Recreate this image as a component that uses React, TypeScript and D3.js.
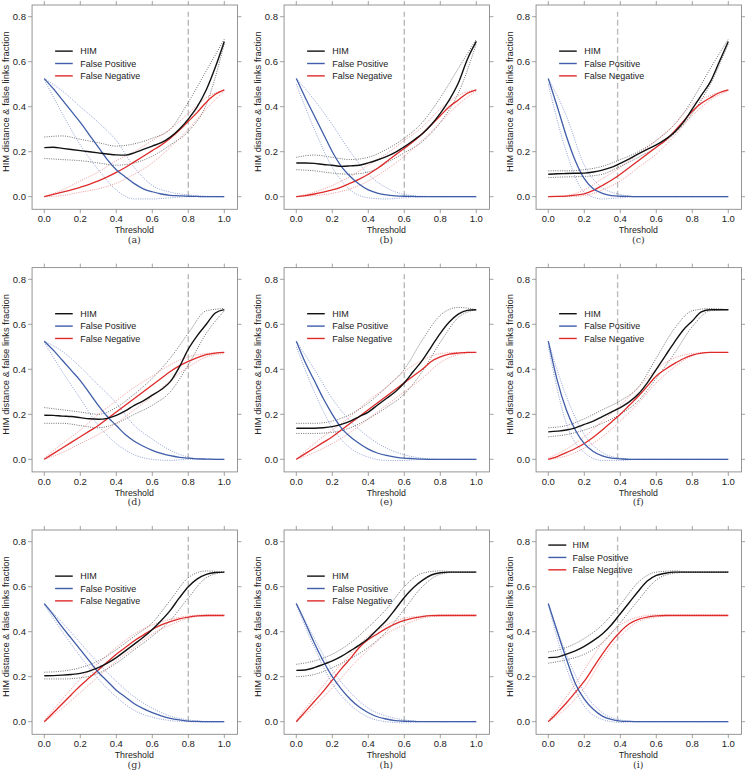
import React from "react";
import * as d3 from "d3";

// ---------- data ----------
const THRESHOLDS_FINE = [0, 0.05, 0.1, 0.15, 0.2, 0.25, 0.3, 0.35, 0.4, 0.45, 0.5, 0.55, 0.6, 0.65, 0.7, 0.75, 0.8, 0.85, 0.9, 0.95, 1.0];
const THRESHOLDS_COARSE = [0, 0.1, 0.2, 0.3, 0.4, 0.5, 0.6, 0.7, 0.8, 0.9, 1.0];
const X_TICKS = [0, 0.2, 0.4, 0.6, 0.8, 1.0];
const Y_TICKS = [0, 0.2, 0.4, 0.6, 0.8];
const PANEL_LABELS = ["(a)", "(b)", "(c)", "(d)", "(e)", "(f)", "(g)", "(h)", "(i)"];
const CUT_OFFS = [0.8, 0.6, 0.385, 0.8, 0.6, 0.385, 0.8, 0.6, 0.385];
const LEGEND_LABELS = ["HIM", "False Positive", "False Negative"];

// (a)
const HIM_A = [0.218, 0.22, 0.215, 0.21, 0.205, 0.2, 0.195, 0.19, 0.186, 0.185, 0.195, 0.21, 0.225, 0.24, 0.265, 0.3, 0.345, 0.4, 0.475, 0.575, 0.69];
const FP_A = [0.525, 0.48, 0.43, 0.38, 0.33, 0.275, 0.22, 0.165, 0.12, 0.088, 0.058, 0.035, 0.022, 0.012, 0.006, 0.004, 0.002, 0.001, 0, 0, 0];
const FN_A = [0, 0.01, 0.02, 0.03, 0.042, 0.055, 0.07, 0.088, 0.108, 0.13, 0.155, 0.18, 0.205, 0.23, 0.26, 0.295, 0.335, 0.375, 0.42, 0.455, 0.475];
const HIM_UP_A = [0.265, 0.27, 0.255, 0.24, 0.225, 0.235, 0.26, 0.3, 0.42, 0.56, 0.70];
const HIM_LO_A = [0.17, 0.165, 0.16, 0.15, 0.14, 0.15, 0.18, 0.23, 0.29, 0.41, 0.68];
const FP_UP_A = [0.525, 0.47, 0.4, 0.33, 0.25, 0.13, 0.05, 0.02, 0.008, 0.002, 0];
const FP_LO_A = [0.52, 0.37, 0.23, 0.12, 0.03, -0.01, -0.01, -0.005, 0, 0, 0];
const FN_UP_A = [0, 0.03, 0.07, 0.11, 0.16, 0.2, 0.25, 0.3, 0.37, 0.44, 0.475];
const FN_LO_A = [0, 0.005, 0.02, 0.035, 0.06, 0.1, 0.15, 0.22, 0.3, 0.39, 0.47];

// (b)
const HIM_B = [0.15, 0.15, 0.148, 0.143, 0.14, 0.135, 0.137, 0.14, 0.15, 0.163, 0.178, 0.197, 0.222, 0.25, 0.28, 0.32, 0.37, 0.43, 0.505, 0.61, 0.69];
const FP_B = [0.525, 0.44, 0.36, 0.28, 0.2, 0.135, 0.09, 0.055, 0.03, 0.016, 0.008, 0.004, 0.002, 0.001, 0, 0, 0, 0, 0, 0, 0];
const FN_B = [0, 0.005, 0.012, 0.02, 0.03, 0.043, 0.06, 0.078, 0.1, 0.125, 0.155, 0.185, 0.215, 0.245, 0.28, 0.32, 0.36, 0.4, 0.43, 0.46, 0.475];
const HIM_UP_B = [0.175, 0.185, 0.175, 0.165, 0.175, 0.21, 0.26, 0.33, 0.44, 0.57, 0.70];
const HIM_LO_B = [0.12, 0.115, 0.105, 0.1, 0.11, 0.15, 0.195, 0.245, 0.33, 0.46, 0.68];
const FP_UP_B = [0.525, 0.43, 0.32, 0.2, 0.1, 0.04, 0.01, 0.002, 0, 0, 0];
const FP_LO_B = [0.5, 0.3, 0.13, 0.03, -0.005, -0.01, -0.005, 0, 0, 0, 0];
const FN_UP_B = [0, 0.02, 0.05, 0.09, 0.14, 0.19, 0.25, 0.31, 0.39, 0.45, 0.475];
const FN_LO_B = [0, 0.005, 0.015, 0.035, 0.07, 0.12, 0.18, 0.25, 0.33, 0.41, 0.47];

// (c)
const HIM_C = [0.1, 0.102, 0.103, 0.104, 0.105, 0.11, 0.118, 0.13, 0.148, 0.168, 0.19, 0.21, 0.23, 0.255, 0.285, 0.33, 0.39, 0.45, 0.51, 0.6, 0.69];
const FP_C = [0.525, 0.4, 0.27, 0.16, 0.08, 0.035, 0.015, 0.005, 0.002, 0.001, 0, 0, 0, 0, 0, 0, 0, 0, 0, 0, 0];
const FN_C = [0, 0.001, 0.003, 0.007, 0.013, 0.028, 0.05, 0.073, 0.1, 0.13, 0.16, 0.19, 0.22, 0.25, 0.29, 0.335, 0.38, 0.415, 0.44, 0.462, 0.475];
const HIM_UP_C = [0.115, 0.115, 0.12, 0.135, 0.165, 0.2, 0.25, 0.32, 0.43, 0.57, 0.70];
const HIM_LO_C = [0.085, 0.088, 0.09, 0.1, 0.135, 0.175, 0.22, 0.28, 0.37, 0.5, 0.68];
const FP_UP_C = [0.525, 0.36, 0.14, 0.04, 0.01, 0, 0, 0, 0, 0, 0];
const FP_LO_C = [0.5, 0.2, 0.02, -0.01, -0.005, 0, 0, 0, 0, 0, 0];
const FN_UP_C = [0, 0.005, 0.03, 0.08, 0.13, 0.19, 0.25, 0.32, 0.41, 0.45, 0.475];
const FN_LO_C = [0, 0, 0.005, 0.03, 0.07, 0.13, 0.19, 0.27, 0.36, 0.43, 0.47];

// (d)
const HIM_D = [0.196, 0.195, 0.192, 0.19, 0.185, 0.18, 0.178, 0.182, 0.195, 0.215, 0.24, 0.26, 0.285, 0.31, 0.345, 0.41, 0.49, 0.55, 0.6, 0.65, 0.665];
const FP_D = [0.525, 0.485, 0.44, 0.395, 0.35, 0.295, 0.24, 0.19, 0.15, 0.11, 0.08, 0.058, 0.04, 0.026, 0.016, 0.009, 0.005, 0.002, 0.001, 0, 0];
const FN_D = [0, 0.025, 0.05, 0.075, 0.1, 0.125, 0.15, 0.18, 0.21, 0.24, 0.27, 0.3, 0.33, 0.36, 0.39, 0.415, 0.435, 0.452, 0.465, 0.472, 0.475];
const HIM_UP_D = [0.23, 0.22, 0.21, 0.2, 0.23, 0.29, 0.36, 0.45, 0.56, 0.66, 0.67];
const HIM_LO_D = [0.16, 0.16, 0.15, 0.14, 0.16, 0.2, 0.24, 0.3, 0.42, 0.56, 0.66];
const FP_UP_D = [0.525, 0.48, 0.41, 0.33, 0.25, 0.15, 0.09, 0.04, 0.01, 0, 0];
const FP_LO_D = [0.52, 0.39, 0.27, 0.15, 0.07, 0.02, 0, -0.005, 0, 0, 0];
const FN_UP_D = [0.005, 0.07, 0.13, 0.2, 0.26, 0.32, 0.37, 0.42, 0.455, 0.47, 0.475];
const FN_LO_D = [0, 0.03, 0.07, 0.11, 0.16, 0.22, 0.28, 0.35, 0.41, 0.455, 0.47];

// (e)
const HIM_E = [0.138, 0.138, 0.138, 0.14, 0.145, 0.155, 0.17, 0.19, 0.21, 0.24, 0.27, 0.3, 0.34, 0.39, 0.44, 0.5, 0.56, 0.61, 0.645, 0.662, 0.665];
const FP_E = [0.525, 0.43, 0.35, 0.27, 0.2, 0.14, 0.1, 0.07, 0.045, 0.028, 0.017, 0.01, 0.005, 0.003, 0.001, 0, 0, 0, 0, 0, 0];
const FN_E = [0, 0.025, 0.05, 0.075, 0.1, 0.13, 0.16, 0.19, 0.22, 0.25, 0.28, 0.31, 0.34, 0.37, 0.4, 0.435, 0.455, 0.467, 0.472, 0.475, 0.475];
const HIM_UP_E = [0.16, 0.16, 0.17, 0.2, 0.25, 0.32, 0.4, 0.53, 0.64, 0.675, 0.665];
const HIM_LO_E = [0.115, 0.115, 0.12, 0.14, 0.18, 0.23, 0.29, 0.39, 0.52, 0.63, 0.665];
const FP_UP_E = [0.525, 0.4, 0.27, 0.17, 0.1, 0.05, 0.02, 0.005, 0, 0, 0];
const FP_LO_E = [0.5, 0.3, 0.14, 0.05, 0.01, -0.005, -0.005, 0, 0, 0, 0];
const FN_UP_E = [0, 0.07, 0.13, 0.19, 0.26, 0.32, 0.39, 0.44, 0.47, 0.475, 0.475];
const FN_LO_E = [0, 0.03, 0.07, 0.12, 0.18, 0.24, 0.3, 0.36, 0.43, 0.465, 0.475];

// (f)
const HIM_F = [0.122, 0.125, 0.13, 0.14, 0.155, 0.17, 0.19, 0.21, 0.23, 0.255, 0.29, 0.34, 0.4, 0.46, 0.52, 0.575, 0.615, 0.655, 0.665, 0.665, 0.665];
const FP_F = [0.525, 0.35, 0.22, 0.13, 0.07, 0.035, 0.015, 0.005, 0.002, 0, 0, 0, 0, 0, 0, 0, 0, 0, 0, 0, 0];
const FN_F = [0, 0.012, 0.03, 0.048, 0.07, 0.098, 0.13, 0.165, 0.2, 0.24, 0.28, 0.325, 0.37, 0.4, 0.425, 0.447, 0.463, 0.472, 0.475, 0.475, 0.475];
const HIM_UP_F = [0.14, 0.15, 0.18, 0.22, 0.26, 0.32, 0.45, 0.58, 0.66, 0.67, 0.665];
const HIM_LO_F = [0.1, 0.11, 0.13, 0.16, 0.2, 0.26, 0.36, 0.47, 0.59, 0.66, 0.665];
const FP_UP_F = [0.525, 0.28, 0.11, 0.03, 0.005, 0, 0, 0, 0, 0, 0];
const FP_LO_F = [0.5, 0.16, 0.03, -0.005, -0.005, 0, 0, 0, 0, 0, 0];
const FN_UP_F = [0.005, 0.045, 0.1, 0.17, 0.24, 0.32, 0.4, 0.45, 0.47, 0.475, 0.475];
const FN_LO_F = [0, 0.015, 0.05, 0.1, 0.17, 0.25, 0.34, 0.41, 0.46, 0.475, 0.475];

// (g)
const HIM_G = [0.204, 0.205, 0.207, 0.21, 0.215, 0.225, 0.24, 0.26, 0.285, 0.315, 0.345, 0.375, 0.41, 0.45, 0.495, 0.55, 0.6, 0.635, 0.655, 0.663, 0.665];
const FP_G = [0.525, 0.475, 0.42, 0.37, 0.32, 0.27, 0.22, 0.18, 0.14, 0.11, 0.08, 0.058, 0.04, 0.026, 0.015, 0.008, 0.003, 0.001, 0, 0, 0];
const FN_G = [0, 0.04, 0.08, 0.12, 0.16, 0.195, 0.23, 0.265, 0.3, 0.33, 0.36, 0.385, 0.41, 0.43, 0.445, 0.457, 0.465, 0.47, 0.472, 0.472, 0.472];
const HIM_UP_G = [0.22, 0.225, 0.24, 0.27, 0.32, 0.38, 0.44, 0.54, 0.64, 0.67, 0.665];
const HIM_LO_G = [0.19, 0.19, 0.195, 0.215, 0.26, 0.32, 0.38, 0.45, 0.55, 0.64, 0.665];
const FP_UP_G = [0.525, 0.44, 0.35, 0.26, 0.18, 0.11, 0.06, 0.025, 0.008, 0.001, 0];
const FP_LO_G = [0.52, 0.4, 0.29, 0.19, 0.11, 0.05, 0.02, 0.005, 0, -0.002, 0];
const FN_UP_G = [0.005, 0.1, 0.19, 0.26, 0.33, 0.39, 0.43, 0.455, 0.47, 0.475, 0.475];
const FN_LO_G = [0, 0.06, 0.13, 0.2, 0.27, 0.33, 0.39, 0.43, 0.46, 0.47, 0.472];

// (h)
const HIM_H = [0.228, 0.23, 0.24, 0.255, 0.27, 0.29, 0.315, 0.34, 0.37, 0.41, 0.45, 0.5, 0.552, 0.595, 0.628, 0.652, 0.662, 0.665, 0.665, 0.665, 0.665];
const FP_H = [0.525, 0.44, 0.35, 0.27, 0.2, 0.145, 0.1, 0.065, 0.04, 0.022, 0.012, 0.005, 0.002, 0.001, 0, 0, 0, 0, 0, 0, 0];
const FN_H = [0, 0.045, 0.09, 0.135, 0.185, 0.235, 0.28, 0.33, 0.365, 0.39, 0.415, 0.435, 0.45, 0.46, 0.467, 0.471, 0.472, 0.472, 0.472, 0.472, 0.472];
const HIM_UP_H = [0.255, 0.27, 0.3, 0.35, 0.42, 0.5, 0.6, 0.66, 0.67, 0.665, 0.665];
const HIM_LO_H = [0.2, 0.21, 0.24, 0.28, 0.33, 0.4, 0.5, 0.6, 0.655, 0.665, 0.665];
const FP_UP_H = [0.525, 0.37, 0.23, 0.13, 0.06, 0.025, 0.008, 0.001, 0, 0, 0];
const FP_LO_H = [0.52, 0.33, 0.17, 0.075, 0.02, 0, -0.005, 0, 0, 0, 0];
const FN_UP_H = [0.005, 0.11, 0.21, 0.3, 0.38, 0.43, 0.46, 0.47, 0.475, 0.475, 0.475];
const FN_LO_H = [0, 0.07, 0.15, 0.24, 0.32, 0.39, 0.43, 0.46, 0.47, 0.472, 0.472];

// (i)
const HIM_I = [0.285, 0.287, 0.3, 0.315, 0.335, 0.36, 0.39, 0.43, 0.48, 0.53, 0.58, 0.625, 0.65, 0.66, 0.665, 0.665, 0.665, 0.665, 0.665, 0.665, 0.665];
const FP_I = [0.525, 0.4, 0.28, 0.17, 0.1, 0.055, 0.025, 0.01, 0.003, 0.001, 0, 0, 0, 0, 0, 0, 0, 0, 0, 0, 0];
const FN_I = [0, 0.04, 0.083, 0.13, 0.18, 0.24, 0.3, 0.355, 0.4, 0.435, 0.455, 0.465, 0.47, 0.472, 0.472, 0.472, 0.472, 0.472, 0.472, 0.472, 0.472];
const HIM_UP_I = [0.31, 0.33, 0.37, 0.43, 0.52, 0.62, 0.665, 0.67, 0.665, 0.665, 0.665];
const HIM_LO_I = [0.26, 0.275, 0.3, 0.35, 0.44, 0.54, 0.63, 0.66, 0.665, 0.665, 0.665];
const FP_UP_I = [0.525, 0.3, 0.13, 0.04, 0.008, 0, 0, 0, 0, 0, 0];
const FP_LO_I = [0.52, 0.24, 0.07, 0.01, -0.003, 0, 0, 0, 0, 0, 0];
const FN_UP_I = [0.005, 0.11, 0.23, 0.35, 0.43, 0.465, 0.475, 0.475, 0.475, 0.475, 0.475];
const FN_LO_I = [0, 0.06, 0.15, 0.28, 0.38, 0.445, 0.465, 0.472, 0.472, 0.472, 0.472];

const PANEL_DATA = [
  [HIM_A, FP_A, FN_A, HIM_UP_A, HIM_LO_A, FP_UP_A, FP_LO_A, FN_UP_A, FN_LO_A],
  [HIM_B, FP_B, FN_B, HIM_UP_B, HIM_LO_B, FP_UP_B, FP_LO_B, FN_UP_B, FN_LO_B],
  [HIM_C, FP_C, FN_C, HIM_UP_C, HIM_LO_C, FP_UP_C, FP_LO_C, FN_UP_C, FN_LO_C],
  [HIM_D, FP_D, FN_D, HIM_UP_D, HIM_LO_D, FP_UP_D, FP_LO_D, FN_UP_D, FN_LO_D],
  [HIM_E, FP_E, FN_E, HIM_UP_E, HIM_LO_E, FP_UP_E, FP_LO_E, FN_UP_E, FN_LO_E],
  [HIM_F, FP_F, FN_F, HIM_UP_F, HIM_LO_F, FP_UP_F, FP_LO_F, FN_UP_F, FN_LO_F],
  [HIM_G, FP_G, FN_G, HIM_UP_G, HIM_LO_G, FP_UP_G, FP_LO_G, FN_UP_G, FN_LO_G],
  [HIM_H, FP_H, FN_H, HIM_UP_H, HIM_LO_H, FP_UP_H, FP_LO_H, FN_UP_H, FN_LO_H],
  [HIM_I, FP_I, FN_I, HIM_UP_I, HIM_LO_I, FP_UP_I, FP_LO_I, FN_UP_I, FN_LO_I],
];

// ---------- styling / layout ----------
const W = 745;
const H = 776;
const COL_X0 = [44.3, 296.3, 548.3];
const ROW_Y0 = [196.7, 459.3, 721.7];
const PX_PER_X = 180;
const PX_PER_Y = 225;
const COLORS = ["#111111", "#3f5da8", "#df2a2a"];
const BAND_COLORS = ["#444444", "#6f86c8", "#ee7777"];
const SANS = "'Liberation Sans', Arial, Helvetica, sans-serif";
const SERIF = "'DejaVu Serif', 'Liberation Serif', serif";

function Panel({ idx }: { idx: number }) {
  const col = idx % 3;
  const row = Math.floor(idx / 3);
  const x0 = COL_X0[col];
  const y0 = ROW_Y0[row];
  const xs = d3.scaleLinear().domain([0, 1]).range([x0, x0 + PX_PER_X]);
  const ys = d3.scaleLinear().domain([0, 1]).range([y0, y0 - PX_PER_Y]);
  const [him, fp, fn, himUp, himLo, fpUp, fpLo, fnUp, fnLo] = PANEL_DATA[idx];

  const lineFine = d3
    .line<number>()
    .x((_, i) => xs(THRESHOLDS_FINE[i]))
    .y((d) => ys(d))
    .curve(d3.curveMonotoneX);
  const lineCoarse = d3
    .line<number>()
    .x((_, i) => xs(THRESHOLDS_COARSE[i]))
    .y((d) => ys(d))
    .curve(d3.curveMonotoneX);

  const bx0 = xs(-0.068);
  const bx1 = xs(1.073);
  const by0 = ys(0.852);
  const by1 = ys(-0.056);
  const tickLen = 4;
  const boxColor = "#8a8a8a";

  const bands: [number[], number][] = [
    [himUp, 0], [himLo, 0], [fpUp, 1], [fpLo, 1], [fnUp, 2], [fnLo, 2],
  ];
  const means: [number[], number, number][] = [
    [fn, 2, 1.3], [fp, 1, 1.3], [him, 0, 1.4],
  ];

  const isLast = idx === 8;
  const legX1 = isLast ? 0.0 : 0.06;
  const legX2 = isLast ? 0.1 : 0.158;
  const legTx = isLast ? 0.135 : 0.2;
  const legY = isLast ? [0.785, 0.73, 0.675] : [0.647, 0.592, 0.537];

  return (
    <g>
      <rect x={bx0} y={by0} width={bx1 - bx0} height={by1 - by0} fill="white" stroke={boxColor} strokeWidth={0.9} />
      {X_TICKS.map((t) => (
        <g key={"xt" + t}>
          <line x1={xs(t)} x2={xs(t)} y1={by1} y2={by1 + tickLen} stroke={boxColor} strokeWidth={0.8} />
          <line x1={xs(t)} x2={xs(t)} y1={by0} y2={by0 - tickLen} stroke={boxColor} strokeWidth={0.8} />
          <text x={xs(t)} y={by1 + 13} textAnchor="middle" fontSize={9.5} fontFamily={SANS} fill="#222">
            {t.toFixed(1)}
          </text>
        </g>
      ))}
      {Y_TICKS.map((t) => (
        <g key={"yt" + t}>
          <line x1={bx0} x2={bx0 - tickLen} y1={ys(t)} y2={ys(t)} stroke={boxColor} strokeWidth={0.8} />
          <line x1={bx1} x2={bx1 + tickLen} y1={ys(t)} y2={ys(t)} stroke={boxColor} strokeWidth={0.8} />
          <text x={bx0 - 6} y={ys(t) + 3.4} textAnchor="end" fontSize={9.5} fontFamily={SANS} fill="#222">
            {t.toFixed(1)}
          </text>
        </g>
      ))}
      <text x={xs(0.5)} y={y0 + 36.5} textAnchor="middle" fontSize={8.8} fontFamily={SANS} fill="#222">
        Threshold
      </text>
      <text
        transform={`translate(${x0 - 35.5},${y0 - 95}) rotate(-90)`}
        textAnchor="middle"
        fontSize={9.4}
        fontFamily={SANS}
        fill="#222"
      >
        HIM distance &amp; false links fraction
      </text>
      <text x={xs(0.5)} y={y0 + 46} textAnchor="middle" fontSize={9.5} fontFamily={SERIF} fill="#333">
        {PANEL_LABELS[idx]}
      </text>
      <line
        x1={xs(CUT_OFFS[idx])}
        x2={xs(CUT_OFFS[idx])}
        y1={ys(0)}
        y2={ys(0.822)}
        stroke="#bbbbbb"
        strokeWidth={1.4}
        strokeDasharray="6,3"
      />
      {bands.map(([arr, c], k) => (
        <path key={"b" + k} d={lineCoarse(arr) || ""} fill="none" stroke={BAND_COLORS[c]} strokeWidth={0.75} strokeDasharray="1,1.3" />
      ))}
      {means.map(([arr, c, w], k) => (
        <path key={"m" + k} d={lineFine(arr) || ""} fill="none" stroke={COLORS[c]} strokeWidth={w} />
      ))}
      {LEGEND_LABELS.map((lab, k) => (
        <g key={"lg" + k}>
          <line x1={xs(legX1)} x2={xs(legX2)} y1={ys(legY[k])} y2={ys(legY[k])} stroke={COLORS[k]} strokeWidth={1.4} />
          <text x={xs(legTx)} y={ys(legY[k]) + 3.3} fontSize={9} fontFamily={SANS} fill="#222">
            {lab}
          </text>
        </g>
      ))}
    </g>
  );
}

export default function App() {
  return (
    <svg
      width={W}
      height={H}
      viewBox={`0 0 ${W} ${H}`}
      style={{ position: "absolute", left: 0, top: 0, background: "white" }}
    >
      <rect x={0} y={0} width={W} height={H} fill="white" />
      {PANEL_LABELS.map((_, i) => (
        <Panel key={i} idx={i} />
      ))}
    </svg>
  );
}
